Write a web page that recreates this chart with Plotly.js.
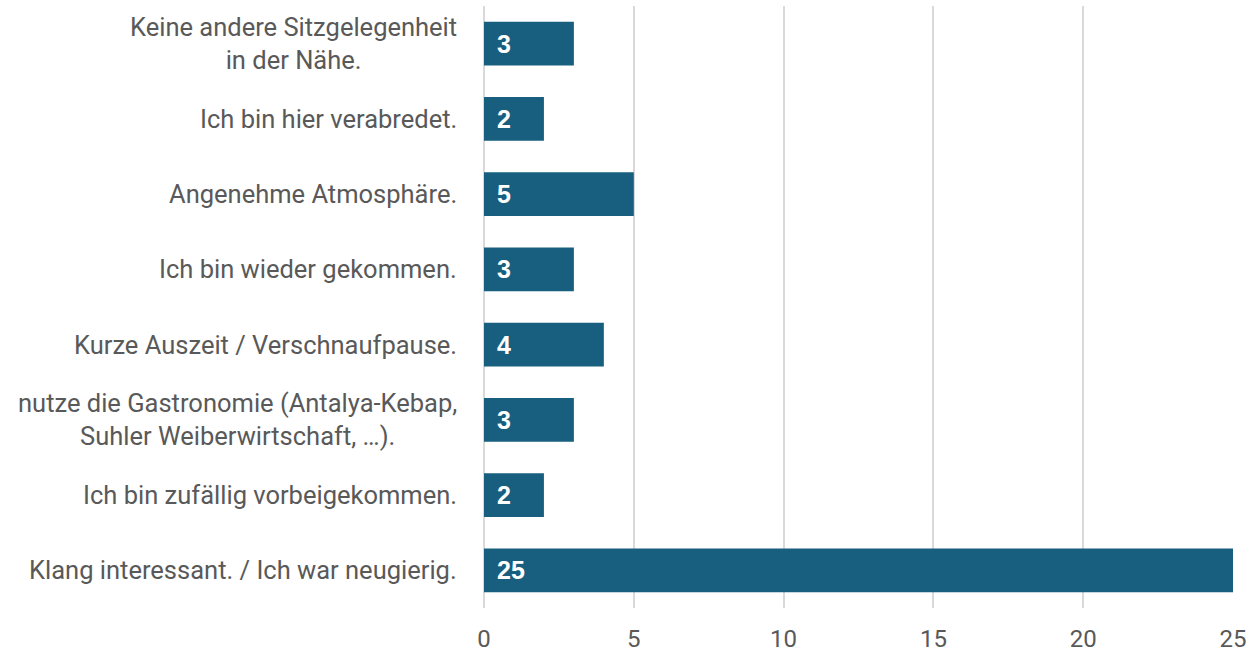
<!DOCTYPE html>
<html><head><meta charset="utf-8">
<script src="https://cdn.plot.ly/plotly-3.0.1.min.js"></script>
<style>html,body{margin:0;padding:0;background:#fff}#chart{width:1258px;height:654px}</style>
</head><body><div id="chart"></div>
<script>
const categories = [
  "Keine andere Sitzgelegenheit<br>in der Nähe.",
  "Ich bin hier verabredet.",
  "Angenehme Atmosphäre.",
  "Ich bin wieder gekommen.",
  "Kurze Auszeit / Verschnaufpause.",
  "nutze die Gastronomie (Antalya-Kebap,<br>Suhler Weiberwirtschaft, …).",
  "Ich bin zufällig vorbeigekommen.",
  "Klang interessant. / Ich war neugierig."
];
const values = [3, 2, 5, 3, 4, 3, 2, 25];
const xTicks = [0, 5, 10, 15, 20, 25];

const FONT = 'Roboto, "Liberation Sans", Arial, sans-serif';
const GRAY = '#595959';

const annotations = [];
categories.forEach((c, i) => {
  annotations.push({
    x: 0, y: c, xref: 'x', yref: 'y', xanchor: 'left', xshift: 11,
    text: '<b>' + values[i] + '</b>', showarrow: false,
    font: {family: '"Liberation Sans", Arial, sans-serif', size: 25, color: '#ffffff'}
  });
  annotations.push({
    x: 0, y: c, xref: 'x', yref: 'y', xanchor: 'right', xshift: -25, align: 'center',
    text: c, showarrow: false,
    font: {family: FONT, size: 25.5, color: GRAY}
  });
});

Plotly.newPlot('chart', [{
  type: 'bar', orientation: 'h',
  x: values, y: categories,
  marker: {color: '#175E7F'},
  hoverinfo: 'none'
}], {
  width: 1258, height: 654,
  margin: {l: 484, r: 25, t: 6, b: 46},
  paper_bgcolor: '#fff', plot_bgcolor: '#fff',
  bargap: 0.42,
  showlegend: false,
  xaxis: {
    range: [0, 25], tickvals: xTicks, ticktext: xTicks.map(String),
    showgrid: true, gridcolor: '#d9d9d9', gridwidth: 2,
    zeroline: true, zerolinecolor: '#d9d9d9', zerolinewidth: 2,
    showline: false, ticks: '', ticklen: 0, ticklabelstandoff: 14,
    tickfont: {family: FONT, size: 24, color: GRAY}
  },
  yaxis: {
    type: 'category', autorange: 'reversed', showticklabels: false,
    showgrid: false, zeroline: false, showline: false, ticks: ''
  },
  annotations: annotations
}, {displayModeBar: false, staticPlot: true});
</script></body></html>
